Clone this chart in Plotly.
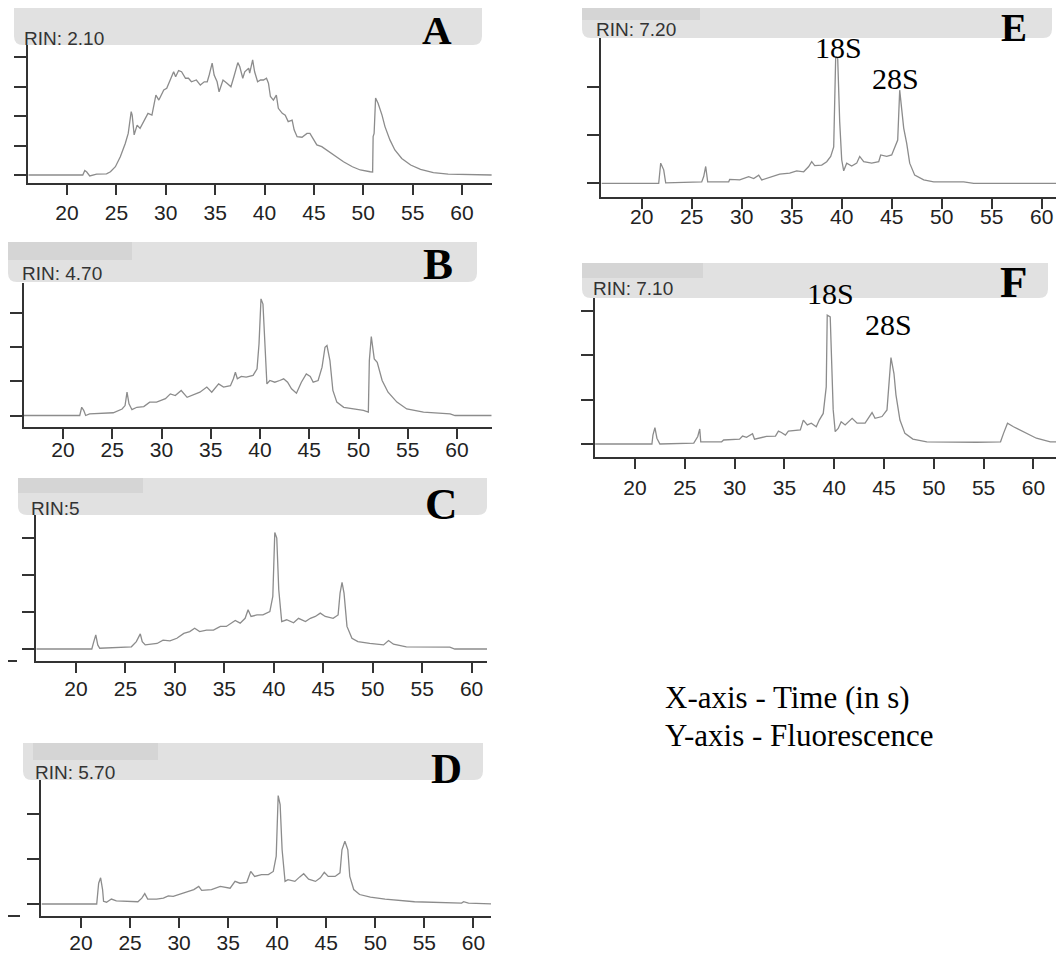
import plotly.graph_objects as go

W, H = 1056, 956

# ---------------- data (time in s, fluorescence in tick units) ----------------
a_time = [16.1, 21.6, 21.8, 22.0, 22.3, 23.0, 24.0, 24.4, 24.9, 25.4, 25.9, 26.2, 26.5, 26.6, 26.8, 27.1, 27.4, 27.8, 28.2, 28.6,
          29.0, 29.3, 29.8, 30.1, 30.4, 30.8, 31.0, 31.3, 31.6, 32.0, 32.3, 32.6, 33.1, 33.5, 33.9, 34.2, 34.4, 34.7, 34.9, 35.2,
          35.4, 35.8, 36.2, 36.6, 36.9, 37.3, 37.5, 37.8, 38.0, 38.4, 38.5, 38.8, 39.0, 39.3, 39.6, 39.9, 40.2, 40.4, 40.6, 40.9,
          41.2, 41.4, 41.8, 42.1, 42.4, 42.8, 43.0, 43.3, 43.8, 44.3, 44.6, 45.0, 45.3, 45.8, 46.5, 47.2, 48.0, 48.9, 49.7, 50.7,
          50.95, 51.0, 51.1, 51.25, 51.5, 51.9, 52.2, 52.7, 53.2, 53.9, 54.8, 55.8, 57.1, 58.6, 63.0]
a_fluor = [0, 0, 0.15, 0.10, -0.03, 0.03, 0.04, 0.11, 0.28, 0.62, 1.07, 1.41, 2.15, 2.03, 1.36, 1.69, 1.58, 1.86, 2.09, 2.03,
           2.71, 2.54, 2.88, 2.94, 3.16, 3.50, 3.33, 3.54, 3.50, 3.28, 3.28, 3.16, 3.22, 3.05, 3.16, 3.16, 3.39, 3.79, 3.39, 3.16,
           2.82, 3.22, 3.11, 2.99, 3.33, 3.81, 3.67, 3.28, 3.50, 3.62, 3.45, 3.90, 3.50, 3.16, 3.22, 3.22, 3.28, 3.11, 2.66, 2.54,
           2.71, 2.26, 2.09, 2.03, 1.81, 1.86, 1.53, 1.30, 1.28, 1.41, 1.41, 1.19, 1.02, 0.96, 0.79, 0.64, 0.45, 0.28, 0.17, 0.11,
           0.10, 1.30, 1.41, 2.61, 2.43, 2.03, 1.64, 1.19, 0.85, 0.56, 0.34, 0.19, 0.08, 0.03, 0.0]

b_time = [15.9, 21.7, 21.9, 22.1, 22.3, 22.7, 25.1, 26.0, 26.3, 26.5, 26.7, 27.0, 27.5, 28.2, 28.8, 29.5, 30.4, 30.9, 31.4, 32.0,
          32.6, 33.2, 33.9, 34.6, 35.1, 35.8, 36.3, 37.0, 37.3, 37.5, 37.7, 38.1, 38.6, 39.3, 39.7, 39.9, 40.1, 40.3, 40.5, 40.7,
          41.0, 41.5, 42.0, 42.4, 42.8, 43.2, 43.7, 44.2, 44.7, 45.1, 45.4, 45.9, 46.3, 46.6, 46.8, 47.1, 47.4, 47.8, 48.5, 49.5,
          50.5, 51.0, 51.1, 51.3, 51.6, 51.9, 52.4, 53.0, 53.9, 54.9, 56.6, 59.3, 59.8, 63.5]
b_fluor = [0, 0, 0.24, 0.15, 0, 0.05, 0.08, 0.19, 0.29, 0.68, 0.34, 0.17, 0.24, 0.26, 0.39, 0.39, 0.49, 0.63, 0.58, 0.73,
           0.53, 0.61, 0.68, 0.83, 0.68, 0.92, 0.83, 0.87, 1.07, 1.26, 1.07, 1.14, 1.12, 1.17, 1.36, 2.09, 3.40, 3.25, 1.89, 0.92,
           1.02, 0.97, 1.02, 1.07, 0.97, 0.78, 0.65, 0.97, 1.21, 1.14, 0.97, 1.02, 1.41, 1.99, 2.04, 1.60, 0.73, 0.39, 0.24, 0.19,
           0.15, 0.10, 1.60, 2.30, 1.65, 1.55, 1.02, 0.68, 0.39, 0.19, 0.10, 0.05, 0, 0]

c_time = [16.0, 21.6, 21.75, 22.0, 22.2, 22.4, 25.6, 26.1, 26.5, 26.7, 27.0, 28.2, 28.8, 29.5, 30.2, 30.9, 31.5, 32.0, 32.5, 33.2,
          33.9, 34.6, 35.2, 35.7, 36.1, 36.6, 37.1, 37.4, 37.7, 38.3, 38.9, 39.6, 39.9, 40.1, 40.3, 40.5, 40.8, 41.3, 42.0, 42.5,
          43.2, 43.7, 44.2, 44.7, 45.2, 46.0, 46.5, 46.7, 46.9, 47.1, 47.4, 47.9, 48.5, 49.7, 51.1, 51.6, 52.1, 53.4, 57.8, 58.3, 61.6]
c_fluor = [0, 0, 0.15, 0.38, 0.11, 0.02, 0.06, 0.20, 0.41, 0.20, 0.11, 0.15, 0.24, 0.22, 0.29, 0.42, 0.47, 0.56, 0.47, 0.51,
           0.51, 0.61, 0.61, 0.70, 0.77, 0.70, 0.83, 1.06, 0.88, 0.92, 0.92, 1.01, 1.42, 3.15, 3.00, 1.60, 0.74, 0.79, 0.71, 0.83,
           0.74, 0.83, 0.88, 0.97, 0.88, 0.83, 0.92, 1.51, 1.80, 1.51, 0.61, 0.29, 0.20, 0.15, 0.11, 0.23, 0.13, 0.06, 0.05, 0, 0]

d_time = [16.0, 21.6, 21.8, 22.0, 22.2, 22.3, 22.6, 23.1, 23.6, 25.8, 26.2, 26.5, 26.8, 27.7, 28.4, 28.9, 29.4, 30.3, 30.9, 31.5,
          32.0, 32.3, 33.3, 34.2, 35.2, 35.7, 36.2, 36.9, 37.3, 37.7, 38.4, 39.1, 39.6, 39.9, 40.1, 40.3, 40.5, 40.8, 41.1, 41.8,
          42.3, 42.7, 43.2, 43.9, 44.4, 44.8, 45.2, 45.9, 46.4, 46.6, 46.9, 47.2, 47.4, 47.8, 48.4, 49.5, 51.0, 54.0, 58.8, 59.0,
          59.5, 61.9]
d_fluor = [0, 0, 0.46, 0.58, 0.32, 0.06, 0.04, 0.11, 0.07, 0.05, 0.13, 0.23, 0.11, 0.11, 0.13, 0.18, 0.17, 0.24, 0.28, 0.32,
           0.39, 0.30, 0.32, 0.39, 0.35, 0.50, 0.46, 0.48, 0.72, 0.61, 0.65, 0.65, 0.72, 1.06, 2.40, 2.20, 1.20, 0.50, 0.54, 0.50,
           0.60, 0.67, 0.55, 0.50, 0.58, 0.70, 0.61, 0.61, 0.69, 1.20, 1.39, 1.20, 0.61, 0.32, 0.21, 0.15, 0.11, 0.05, 0.02, 0.05,
           0.02, 0]

e_time = [16.0, 21.7, 21.8, 21.9, 22.2, 22.4, 26.0, 26.2, 26.4, 26.6, 28.7, 28.8, 29.8, 30.7, 31.2, 31.7, 32.0, 33.2, 33.8, 34.8,
          35.5, 36.2, 36.7, 37.0, 37.3, 38.0, 38.5, 38.9, 39.2, 39.4, 39.6, 39.8, 40.0, 40.2, 40.5, 41.0, 41.5, 41.8, 42.2, 43.0,
          43.7, 43.9, 44.5, 45.0, 45.3, 45.6, 45.8, 45.9, 46.2, 46.5, 46.8, 47.3, 48.2, 49.2, 52.2, 53.2, 61.5]
e_fluor = [0, 0, 0.21, 0.42, 0.28, 0.01, 0.03, 0.14, 0.35, 0.03, 0.03, 0.08, 0.07, 0.14, 0.10, 0.17, 0.07, 0.14, 0.19, 0.21,
           0.26, 0.24, 0.35, 0.45, 0.37, 0.38, 0.45, 0.56, 0.76, 2.64, 2.60, 1.28, 0.49, 0.26, 0.42, 0.36, 0.42, 0.56, 0.45, 0.42,
           0.45, 0.59, 0.56, 0.59, 0.73, 0.90, 1.94, 1.74, 1.15, 0.83, 0.42, 0.17, 0.07, 0.03, 0.03, 0, 0]

f_time = [16.0, 21.7, 21.8, 22.0, 22.2, 22.5, 25.9, 26.3, 26.5, 26.6, 28.7, 28.9, 30.5, 30.8, 31.2, 31.8, 32.0, 33.2, 34.1, 34.4,
          34.7, 35.1, 35.4, 36.6, 36.9, 37.3, 37.7, 38.2, 38.5, 38.9, 39.2, 39.3, 39.6, 39.7, 39.9, 40.1, 40.4, 40.7, 41.1, 41.8,
          42.3, 43.1, 43.8, 44.1, 44.8, 45.3, 45.5, 45.7, 46.0, 46.2, 46.6, 47.1, 47.9, 49.3, 54.3, 56.7, 57.0, 57.4, 58.0, 59.0,
          60.3, 61.7, 62.3]
f_fluor = [0, 0, 0.20, 0.37, 0.13, 0, 0.02, 0.17, 0.34, 0.05, 0.05, 0.09, 0.11, 0.18, 0.15, 0.23, 0.11, 0.17, 0.18, 0.29,
           0.26, 0.20, 0.29, 0.32, 0.54, 0.43, 0.47, 0.39, 0.54, 0.69, 1.29, 2.91, 2.87, 2.05, 0.77, 0.28, 0.35, 0.50, 0.43, 0.58,
           0.47, 0.47, 0.71, 0.58, 0.62, 0.77, 1.44, 1.95, 1.59, 1.11, 0.54, 0.24, 0.11, 0.05, 0.04, 0.05, 0.24, 0.47, 0.39, 0.28,
           0.13, 0.05, 0.05]

panel_letters = ["A", "B", "C", "D", "E", "F"]
rin_labels = ["RIN: 2.10", "RIN: 4.70", "RIN:5", "RIN: 5.70", "RIN: 7.20", "RIN: 7.10"]
x_tick_vals = [20, 25, 30, 35, 40, 45, 50, 55, 60]
x_tick_text = ["20", "25", "30", "35", "40", "45", "50", "55", "60"]
y_tick_counts = [5, 4, 4, 3, 3, 4]
peak_labels = ["18S", "28S"]
caption_lines = ["X-axis - Time (in s)", "Y-axis - Fluorescence"]

series = [(a_time, a_fluor), (b_time, b_fluor), (c_time, c_fluor),
          (d_time, d_fluor), (e_time, e_fluor), (f_time, f_fluor)]

# ---------------- layout geometry (pixels) ----------------
geom = [
    dict(box=(28, 492, 45, 183), x20=67, xs=9.875, base=175, ys=29.5, so=0,
         bar=(14, 482, 8, 45), dark=None, rin=(22, 37), let=(437, 28, 41)),
    dict(box=(24, 492, 283, 427), x20=63, xs=9.85, base=415.5, ys=34.3, so=-7,
         bar=(8, 477, 242, 282), dark=(8, 132, 242, 260), rin=(20, 272), let=(438, 262, 45)),
    dict(box=(36, 487, 515, 661), x20=76, xs=9.89, base=649, ys=37, so=-2,
         bar=(18, 487, 478, 515), dark=(18, 143, 478, 493), rin=(29, 507), let=(441, 502, 45)),
    dict(box=(41, 491, 780, 916), x20=81, xs=9.81, base=904, ys=45.2, so=-3,
         bar=(23, 483, 743, 780), dark=(33, 158, 743, 760), rin=(33, 771), let=(446, 766, 43)),
    dict(box=(601, 1056, 38, 197), x20=641.7, xs=10.0, base=183.3, ys=48, so=-10,
         bar=(582, 1052, 8, 38), dark=(582, 700, 8, 20), rin=(594, 28), let=(1014, 25, 39)),
    dict(box=(595, 1056, 298, 457), x20=635, xs=9.96, base=444, ys=44.3, so=1,
         bar=(582, 1048, 263, 298), dark=(582, 703, 263, 278), rin=(591, 287), let=(1014, 280, 45)),
]
peak_pos = {4: [(838, 45), (895, 76)], 5: [(830, 291), (888, 323)]}


def px(x):
    return x / W


def py(y):
    return 1 - y / H


AX = "#333333"
LINE = "#8c8c8c"
BAR = "#e1e1e1"
DARK = "#d5d5d5"

fig = go.Figure()
layout = dict(width=W, height=H, margin=dict(l=0, r=0, t=0, b=0), autosize=False,
              paper_bgcolor="white", plot_bgcolor="rgba(0,0,0,0)", showlegend=False)
shapes = []
annotations = []

for i, (g, (xs_, ys_)) in enumerate(zip(geom, series)):
    n = i + 1
    l, r, t, b = g["box"]
    xr = [20 + (l - g["x20"]) / g["xs"], 20 + (r - g["x20"]) / g["xs"]]
    yr = [(g["base"] - b) / g["ys"], (g["base"] - t) / g["ys"]]
    xa = "x" if n == 1 else f"x{n}"
    ya = "y" if n == 1 else f"y{n}"
    fig.add_trace(go.Scatter(x=xs_, y=ys_, mode="lines", xaxis=xa, yaxis=ya,
                             line=dict(color=LINE, width=1.3), hoverinfo="skip"))
    layout[f"xaxis{'' if n == 1 else n}"] = dict(
        domain=[px(l), px(r)], anchor=ya, range=xr, tickvals=x_tick_vals, ticktext=x_tick_text,
        ticks="outside", ticklen=10, tickwidth=2, tickcolor=AX, showline=True, linewidth=2,
        linecolor=AX, showgrid=False, zeroline=False, ticklabelstandoff=g["so"],
        tickfont=dict(family="Liberation Sans, Arial, sans-serif", size=21, color="#222222"))
    layout[f"yaxis{'' if n == 1 else n}"] = dict(
        domain=[py(b), py(t)], anchor=xa, range=yr, tickvals=list(range(y_tick_counts[i])),
        showticklabels=False, ticks="outside", ticklen=12, tickwidth=2, tickcolor=AX,
        showline=True, linewidth=2, linecolor=AX, showgrid=False, zeroline=False)

    # header bar with rounded bottom corners
    bl, br, bt, bb = g["bar"]
    rad = 9
    rx, ry = rad / W, rad / H
    path = (f"M {px(bl)},{py(bt)} L {px(br)},{py(bt)} L {px(br)},{py(bb) + ry} "
            f"Q {px(br)},{py(bb)} {px(br) - rx},{py(bb)} L {px(bl) + rx},{py(bb)} "
            f"Q {px(bl)},{py(bb)} {px(bl)},{py(bb) + ry} Z")
    shapes.append(dict(type="path", xref="paper", yref="paper", path=path,
                       fillcolor=BAR, line=dict(width=0), layer="below"))
    if g["dark"]:
        dl, dr, dt, db = g["dark"]
        shapes.append(dict(type="rect", xref="paper", yref="paper", x0=px(dl), x1=px(dr),
                           y0=py(db), y1=py(dt), fillcolor=DARK, line=dict(width=0), layer="below"))
    rx_, ry_ = g["rin"]
    annotations.append(dict(x=px(rx_), y=py(ry_ + 1), xref="paper", yref="paper", text=rin_labels[i],
                            showarrow=False, xanchor="left", yanchor="middle",
                            font=dict(family="Liberation Sans, Arial, sans-serif", size=19, color="#333333")))
    lx, ly, ls = g["let"]
    annotations.append(dict(x=px(lx), y=py(ly + 2), xref="paper", yref="paper", text=f"<b>{panel_letters[i]}</b>",
                            showarrow=False, xanchor="center", yanchor="middle",
                            font=dict(family="Liberation Serif, Times New Roman, serif", size=ls, color="black")))
    if i in peak_pos:
        for lab, (qx, qy) in zip(peak_labels, peak_pos[i]):
            annotations.append(dict(x=px(qx), y=py(qy + 2), xref="paper", yref="paper", text=lab,
                                    showarrow=False, xanchor="center", yanchor="middle",
                                    font=dict(family="Liberation Serif, Times New Roman, serif", size=30,
                                              color="black")))

# small stubs of the axis to the left of panels C and D
shapes.append(dict(type="line", xref="paper", yref="paper", x0=px(8), x1=px(17), y0=py(661), y1=py(661),
                   line=dict(color=AX, width=2)))
shapes.append(dict(type="line", xref="paper", yref="paper", x0=px(8), x1=px(20), y0=py(916), y1=py(916),
                   line=dict(color=AX, width=2)))

for k, (line_txt, cy) in enumerate(zip(caption_lines, [695, 733])):
    annotations.append(dict(x=px(663), y=py(cy + 2), xref="paper", yref="paper", text=line_txt,
                            showarrow=False, xanchor="left", yanchor="middle",
                            font=dict(family="Liberation Serif, Times New Roman, serif", size=31, color="black")))

layout["shapes"] = shapes
layout["annotations"] = annotations
fig.update_layout(**layout)
fig.write_html("out.html")
